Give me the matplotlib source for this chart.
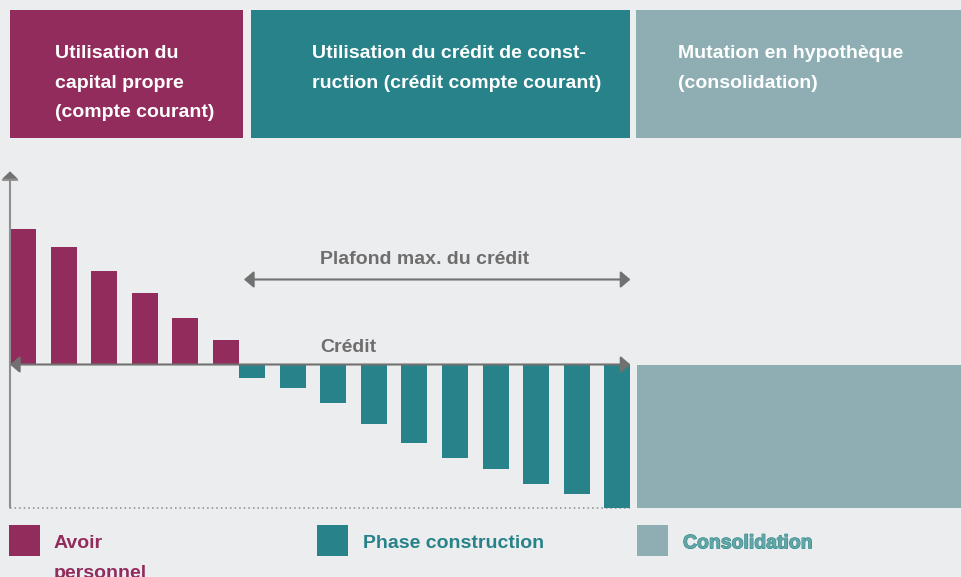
import matplotlib
matplotlib.use("Agg")
import matplotlib.pyplot as plt
from matplotlib.patches import Rectangle, FancyArrowPatch, ArrowStyle
from matplotlib.transforms import Affine2D
import matplotlib.patheffects as pe

# ---- data ----
equity_values = [136, 118, 94, 72, 47, 25]                  # Avoir personnel
construction_values = [-13, -23, -38, -59, -78, -93, -104, -119, -129, -143]  # Phase construction
consolidation_value = -143                                  # Consolidation
credit_ceiling = 85                                         # Plafond max. du crédit
header_titles = [
    ["Utilisation du", "capital propre", "(compte courant)"],
    ["Utilisation du crédit de const-", "ruction (crédit compte courant)"],
    ["Mutation en hypothèque", "(consolidation)"],
]
legend_labels = [["Avoir", "personnel"], ["Phase construction"], ["Consolidation"]]

# ---- style ----
BG = "#ECEDEF"
PURPLE = "#922C5C"
TEAL = "#278289"
GREYBLUE = "#8EAEB4"
ARROW = "#717171"
TEXTGREY = "#6E6E6E"
FONT = "Liberation Sans"

W, H = 961, 577
fig = plt.figure(figsize=(W / 100, H / 100), dpi=100, facecolor=BG)
ax = fig.add_axes([0, 0, 1, 1])
ax.set_facecolor(BG)
ax.axis("off")

# pixel transform (origin top-left)
px = Affine2D().scale(1 / W, -1 / H).translate(0, 1) + fig.transFigure

# data scale
step = 40.6
x0 = 23.0
ax.set_xlim(-x0 / step, (W - x0) / step)
ax.set_ylim(364.5 - H, 364.5)

bw = 26 / step
n_eq = len(equity_values)
eq_x = list(range(n_eq))
con_x = [n_eq - 1 + bw + j for j in range(len(construction_values))]

ax.bar(eq_x, equity_values, width=bw, color=PURPLE, zorder=2)
ax.bar(con_x, construction_values, width=bw, color=TEAL, zorder=2)

cons_left = con_x[-1] + bw / 2 + 6.6 / step
xmax = ax.get_xlim()[1]
ax.bar([cons_left], [consolidation_value], width=xmax - cons_left, align="edge",
       color=GREYBLUE, zorder=2)

axis_x = (10 - x0) / step
right_end = con_x[-1] + bw / 2

# dotted bottom line
ax.plot([axis_x, right_end], [consolidation_value, consolidation_value],
        color="#8a8a8a", lw=1.1, ls=(0, (1, 2)), zorder=1)

# vertical axis with arrow
head = ArrowStyle("-|>", head_length=5.0, head_width=5.2)
ax.add_patch(FancyArrowPatch((axis_x, consolidation_value), (axis_x, 193),
                             arrowstyle=head, mutation_scale=1, color="#8f8f8f",
                             lw=1.5, shrinkA=0, shrinkB=0, zorder=3))
ax.add_patch(FancyArrowPatch((axis_x, 184), (axis_x, 193),
                             arrowstyle=head, mutation_scale=1, color=ARROW,
                             lw=0.1, shrinkA=0, shrinkB=0, zorder=3))

dhead = ArrowStyle("<|-|>", head_length=5.8, head_width=5.0)
# baseline (credit) arrow
ax.add_patch(FancyArrowPatch((axis_x, 0), (right_end, 0),
                             arrowstyle=dhead, mutation_scale=1, color=ARROW,
                             lw=1.5, shrinkA=0, shrinkB=0, zorder=3))
# ceiling arrow
ax.add_patch(FancyArrowPatch((con_x[0] - bw / 2 + 5 / step, credit_ceiling), (right_end, credit_ceiling),
                             arrowstyle=dhead, mutation_scale=1, color=ARROW,
                             lw=1.5, shrinkA=0, shrinkB=0, zorder=3))

ax.text(320.5, 263.7, "Plafond max. du crédit", transform=px, fontsize=14,
        fontweight="bold", family=FONT, color=TEXTGREY, va="baseline", ha="left")
ax.text(320.5, 352.0, "Crédit", transform=px, fontsize=14,
        fontweight="bold", family=FONT, color=TEXTGREY, va="baseline", ha="left")

# ---- header boxes ----
boxes = [(10, 243, PURPLE, 55), (251, 630, TEAL, 312), (636, 961, GREYBLUE, 678)]
baselines = [58.3, 87.6, 117.0]
for (l, r, c, tx), lines in zip(boxes, header_titles):
    fig.patches.append(Rectangle((l, 10), r - l, 127.5, transform=px,
                                 facecolor=c, edgecolor="none"))
    for ln, by in zip(lines, baselines):
        fig.text(tx, by, ln, transform=px, fontsize=14, fontweight="bold",
                 family=FONT, color="white", va="baseline", ha="left")

# ---- legend ----
leg = [(9, PURPLE, 54, PURPLE, None), (317, TEAL, 363, TEAL, None),
       (637, GREYBLUE, 683, "#62a6a8", "#2f8789")]
for (sx, sc, tx, tc, stroke), lines in zip(leg, legend_labels):
    fig.patches.append(Rectangle((sx, 525), 31, 30.7, transform=px,
                                 facecolor=sc, edgecolor="none"))
    for i, ln in enumerate(lines):
        t = fig.text(tx, 548.3 + 29.4 * i, ln, transform=px, fontsize=14,
                     fontweight="bold", family=FONT, color=tc,
                     va="baseline", ha="left")
        if stroke:
            t.set_path_effects([pe.withStroke(linewidth=0.8, foreground=stroke)])

fig.savefig("out.png", dpi=100, facecolor=BG)
